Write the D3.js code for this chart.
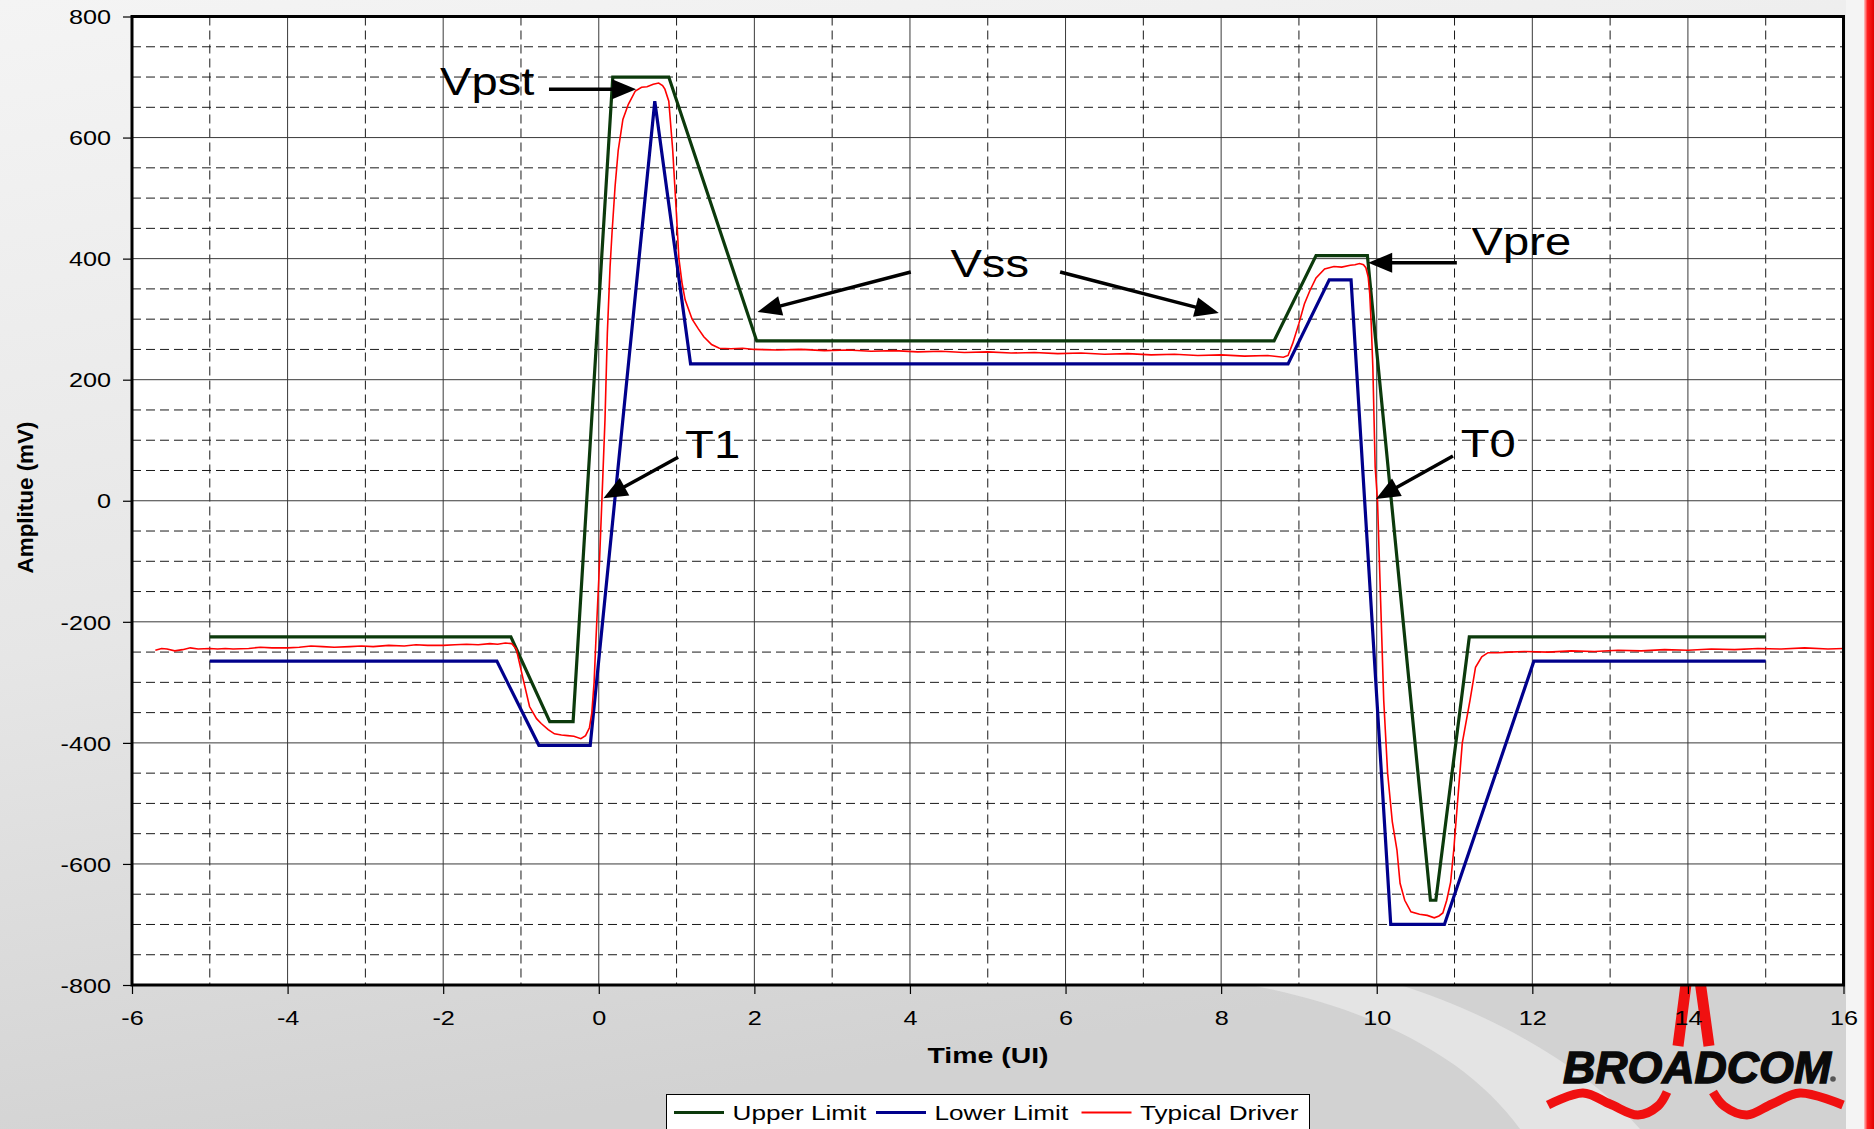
<!DOCTYPE html>
<html>
<head>
<meta charset="utf-8">
<script src="https://cdn.jsdelivr.net/npm/d3@7/dist/d3.min.js"></script>
<style>
  html, body { margin: 0; padding: 0; background: #e6e6e6; }
  svg { display: block; font-family: "Liberation Sans", Arial, sans-serif; }
</style>
</head>
<body>
<svg id="chart" width="1874" height="1129"></svg>
<script>
// ── Data ──────────────────────────────────────────────────────────────────
const xTicks = [-6, -4, -2, 0, 2, 4, 6, 8, 10, 12, 14, 16];
const yTicks = [-800, -600, -400, -200, 0, 200, 400, 600, 800];

const upperX = [-5, -1.13, -0.63, -0.33, 0.18, 0.9, 2.03, 8.68, 9.22, 9.88, 10.69, 10.76, 11.19, 15];
const upperY = [-225, -225, -365, -365, 700, 700, 264, 264, 405, 405, -660, -660, -225, -225];

const lowerX = [-5, -1.31, -0.77, -0.11, 0.72, 1.18, 8.86, 9.39, 9.67, 10.18, 10.87, 12.02, 15];
const lowerY = [-265, -265, -404, -404, 660, 226, 226, 365, 365, -700, -700, -265, -265];

const typicalX = [
  -5.7, -5.62, -5.55, -5.45, -5.35, -5.25, -5.15, -5.0, -4.9, -4.8, -4.7, -4.5, -4.35, -4.2, -4.0,
  -3.85, -3.7, -3.55, -3.4, -3.2, -3.05, -2.9, -2.7, -2.5, -2.35, -2.2, -2.0, -1.85, -1.7, -1.55,
  -1.4, -1.3, -1.2, -1.12, -1.06, -1.03, -0.97, -0.89, -0.8, -0.74, -0.65, -0.57, -0.48, -0.4,
  -0.32, -0.23, -0.17, -0.12, -0.09, -0.06, -0.04, 0.0, 0.04, 0.08, 0.11, 0.145, 0.17, 0.21, 0.25,
  0.31, 0.38, 0.47, 0.55, 0.62, 0.7, 0.77, 0.82, 0.85, 0.9, 0.95, 1.0, 1.03, 1.07, 1.11, 1.2,
  1.28, 1.35, 1.45, 1.55, 1.7, 1.85, 2.0, 2.3, 2.6, 2.9, 3.2, 3.5, 3.8, 4.1, 4.4, 4.7, 5.0, 5.3,
  5.6, 5.9, 6.2, 6.5, 6.8, 7.1, 7.4, 7.7, 8.0, 8.3, 8.6, 8.8, 8.86, 8.92, 9.0, 9.07, 9.14, 9.22,
  9.33, 9.45, 9.55, 9.66, 9.72, 9.78, 9.83, 9.86, 9.89, 9.91, 9.93, 9.95, 9.98, 10.01, 10.05,
  10.09, 10.14, 10.2, 10.26, 10.3, 10.36, 10.44, 10.55, 10.65, 10.74, 10.8, 10.85, 10.9, 10.95,
  10.99, 11.05, 11.1, 11.2, 11.27, 11.35, 11.43, 11.55, 11.7, 11.9, 12.2, 12.5, 12.8, 13.1, 13.4,
  13.7, 14.0, 14.3, 14.6, 14.9, 15.2, 15.5, 15.8, 16.0
];
const typicalY = [
  -247, -244, -245, -248, -246, -243, -245, -244, -245, -244, -245, -244, -242, -243, -243,
  -242, -240, -241, -242, -241, -240, -241, -239, -240, -238, -239, -239, -238, -237, -238,
  -236, -237, -235, -236, -245, -262, -296, -340, -360, -368, -378, -385, -387, -388,
  -389, -393, -388, -375, -351, -300, -240, -130, 0, 134, 276, 386, 442, 520, 579,
  630, 655, 677, 683, 684, 688, 690, 686, 680, 660, 580, 470, 400, 360, 332, 300,
  284, 271, 258, 252, 251, 252, 250, 249, 250, 248, 249, 247, 248, 246, 247, 245, 246, 244,
  245, 243, 244, 242, 243, 241, 242, 240, 241, 239, 240, 237, 240, 260, 293, 325, 347, 368,
  383, 387, 386, 389, 390, 392, 390, 385, 370, 342, 290, 221, 56, 0, -165,
  -330, -450, -530, -577, -632, -660, -679, -683, -685, -689, -686, -681, -660, -630,
  -577, -480, -400, -329, -275, -258, -251, -251, -250, -249, -250, -248, -249, -247, -248,
  -246, -247, -245, -246, -244, -245, -243, -245, -244
];

const seriesNames = ['Upper Limit', 'Lower Limit', 'Typical Driver'];
const seriesColors = ['#0c3a0c', '#00008c', '#ff0000'];

// annotation labels (text anchor point in data units) and arrows (from -> tip)
const annoLabels = ['Vpst', 'Vss', 'Vpre', 'T0', 'T1'];
const annoX = [-2.04, 4.52, 11.22, 11.08, 1.11];
const annoY = [670, 370, 406, 72, 71];
const arrowFromX = [-0.64, 4.01, 5.93, 11.03, 10.98, 1.02];
const arrowFromY = [680, 378, 378, 393, 74, 72];
const arrowToX = [0.48, 2.04, 7.97, 9.89, 9.99, 0.06];
const arrowToY = [680, 312, 310, 393, 3, 4];

// ── Layout ────────────────────────────────────────────────────────────────
const W = 1874, H = 1129;
const plot = { left: 132, right: 1843.5, top: 16.5, bottom: 985 };

const svg = d3.select('#chart');
const x = d3.scaleLinear().domain([-6, 16]).range([plot.left, plot.right]);
const y = d3.scaleLinear().domain([-800, 800]).range([plot.bottom, plot.top]);

// stretch text horizontally (the original picture is widened)
function stretch(sel, k) {
  sel.each(function () {
    const w = this.getComputedTextLength();
    d3.select(this).attr('textLength', w * k).attr('lengthAdjust', 'spacingAndGlyphs');
  });
}

const defs = svg.append('defs');
const bg = defs.append('linearGradient').attr('id', 'bg')
  .attr('x1', 0).attr('y1', 0).attr('x2', 0.25).attr('y2', 1);
bg.append('stop').attr('offset', '0%').attr('stop-color', '#f4f4f4');
bg.append('stop').attr('offset', '55%').attr('stop-color', '#e6e6e6');
bg.append('stop').attr('offset', '100%').attr('stop-color', '#d2d2d2');

const redBar = defs.append('linearGradient').attr('id', 'redbar')
  .attr('x1', 0).attr('y1', 0).attr('x2', 1).attr('y2', 0);
redBar.append('stop').attr('offset', '0%').attr('stop-color', '#ffc8c8');
redBar.append('stop').attr('offset', '35%').attr('stop-color', '#ff2020');
redBar.append('stop').attr('offset', '100%').attr('stop-color', '#e00000');

defs.append('clipPath').attr('id', 'plotclip').append('rect')
  .attr('x', plot.left).attr('y', plot.top)
  .attr('width', plot.right - plot.left).attr('height', plot.bottom - plot.top);

// ── Background ───────────────────────────────────────────────────────────
svg.append('rect').attr('width', W).attr('height', H).attr('fill', 'url(#bg)');
svg.append('path')
  .attr('d', 'M1250,985 C1380,1010 1470,1060 1520,1129 L1640,1129 C1580,1060 1480,1010 1400,985 Z')
  .attr('fill', '#ebebeb').attr('opacity', 0.7);
svg.append('rect').attr('x', 1846).attr('y', 0).attr('width', 20).attr('height', H).attr('fill', '#f4f4f4');
svg.append('rect').attr('x', 1864).attr('y', 0).attr('width', 10).attr('height', H).attr('fill', 'url(#redbar)');

// ── Logo (drawn before the plot so the plot hides the spike top) ─────────
const logo = svg.append('g').attr('fill', 'none').attr('stroke', '#f01010')
  .attr('stroke-linecap', 'butt').attr('stroke-linejoin', 'round');
const logoLine = d3.line().curve(d3.curveCatmullRom);
logo.append('path').attr('stroke-width', 11)
  .attr('d', d3.line()([[1678, 1046], [1693, 930], [1709, 1046]]));
logo.append('path').attr('stroke-width', 9)
  .attr('d', logoLine([[1548, 1105], [1583, 1093], [1610, 1104], [1638, 1115], [1658, 1106], [1667, 1092]]));
logo.append('path').attr('stroke-width', 9)
  .attr('d', logoLine([[1713, 1092], [1724, 1106], [1747, 1115], [1772, 1104], [1800, 1093], [1843, 1105]]));
svg.append('text').attr('x', 1563).attr('y', 1083)
  .attr('font-size', 44).attr('font-weight', 'bold').attr('font-style', 'italic')
  .attr('fill', '#0a0a0a').attr('stroke', '#0a0a0a').attr('stroke-width', 1.4)
  .attr('textLength', 268).attr('lengthAdjust', 'spacingAndGlyphs')
  .text('BROADCOM');
svg.append('circle').attr('cx', 1833).attr('cy', 1079).attr('r', 2.8).attr('fill', '#555');

// ── Plot area and grid ───────────────────────────────────────────────────
svg.append('rect')
  .attr('x', plot.left).attr('y', plot.top)
  .attr('width', plot.right - plot.left).attr('height', plot.bottom - plot.top)
  .attr('fill', '#ffffff');

const grid = svg.append('g');
const xMinor = d3.range(-5, 16, 2);
const yMinor = d3.range(-750, 800, 50).filter(v => v % 200 !== 0);

grid.selectAll('.vminor').data(xMinor).join('line')
  .attr('x1', d => x(d)).attr('x2', d => x(d))
  .attr('y1', plot.top).attr('y2', plot.bottom)
  .attr('stroke', '#1a1a1a').attr('stroke-width', 1).attr('stroke-dasharray', '9,5');
grid.selectAll('.hminor').data(yMinor).join('line')
  .attr('x1', plot.left).attr('x2', plot.right)
  .attr('y1', d => y(d)).attr('y2', d => y(d))
  .attr('stroke', '#1a1a1a').attr('stroke-width', 1).attr('stroke-dasharray', '9,5');
grid.selectAll('.vmajor').data(xTicks.slice(1, -1)).join('line')
  .attr('x1', d => x(d)).attr('x2', d => x(d))
  .attr('y1', plot.top).attr('y2', plot.bottom)
  .attr('stroke', '#3a3a3a').attr('stroke-width', 1);
grid.selectAll('.hmajor').data(yTicks.slice(1, -1)).join('line')
  .attr('x1', plot.left).attr('x2', plot.right)
  .attr('y1', d => y(d)).attr('y2', d => y(d))
  .attr('stroke', '#3a3a3a').attr('stroke-width', 1);

// ── Series ───────────────────────────────────────────────────────────────
const line = d3.line().x(d => x(d[0])).y(d => y(d[1]));
const series = [
  { pts: d3.zip(upperX, upperY), w: 3.2 },
  { pts: d3.zip(lowerX, lowerY), w: 3.2 },
  { pts: d3.zip(typicalX, typicalY), w: 1.6 }
];
const lines = svg.append('g').attr('clip-path', 'url(#plotclip)');
series.forEach((s, i) => {
  lines.append('path')
    .attr('d', line(s.pts))
    .attr('fill', 'none')
    .attr('stroke', seriesColors[i])
    .attr('stroke-width', s.w)
    .attr('stroke-linejoin', 'miter');
});

// frame
svg.append('rect')
  .attr('x', plot.left).attr('y', plot.top)
  .attr('width', plot.right - plot.left).attr('height', plot.bottom - plot.top)
  .attr('fill', 'none').attr('stroke', '#000').attr('stroke-width', 3);

// ── Axes ─────────────────────────────────────────────────────────────────
const fmt = d => String(d);   // plain hyphen minus, as in the original
const xAxis = svg.append('g')
  .attr('transform', `translate(0,${plot.bottom})`)
  .call(d3.axisBottom(x).tickValues(xTicks).tickSize(9).tickPadding(17).tickFormat(fmt));
const yAxis = svg.append('g')
  .attr('transform', `translate(${plot.left},0)`)
  .call(d3.axisLeft(y).tickValues(yTicks).tickSize(9).tickPadding(12).tickFormat(fmt));

[xAxis, yAxis].forEach(ax => {
  ax.select('.domain').remove();
  ax.selectAll('.tick line').attr('stroke', '#000').attr('stroke-width', 1.2);
  ax.selectAll('.tick text')
    .attr('font-family', '"Liberation Sans", Arial, sans-serif')
    .attr('font-size', 20).attr('fill', '#000');
});
yAxis.selectAll('.tick text').attr('dy', '0.36em');
stretch(xAxis.selectAll('.tick text'), 1.26);
stretch(yAxis.selectAll('.tick text'), 1.26);

svg.append('text')
  .attr('x', 988).attr('y', 1063)
  .attr('text-anchor', 'middle').attr('font-size', 22).attr('font-weight', 'bold')
  .attr('textLength', 121).attr('lengthAdjust', 'spacingAndGlyphs')
  .text('Time (UI)');
svg.append('text')
  .attr('transform', 'translate(33,497.5) rotate(-90)')
  .attr('text-anchor', 'middle').attr('font-size', 22).attr('font-weight', 'bold')
  .attr('textLength', 152).attr('lengthAdjust', 'spacingAndGlyphs')
  .text('Amplitue (mV)');

// ── Annotations ──────────────────────────────────────────────────────────
const anno = svg.append('g');
annoLabels.forEach((t, i) => {
  anno.append('text')
    .attr('x', x(annoX[i])).attr('y', y(annoY[i]))
    .attr('font-size', 38).attr('fill', '#000')
    .text(t);
});
stretch(anno.selectAll('text'), 1.24);

const headLen = 24, headHalf = 10;
arrowFromX.forEach((fx, i) => {
  const x0 = x(fx), y0 = y(arrowFromY[i]);
  const x1 = x(arrowToX[i]), y1 = y(arrowToY[i]);
  const len = Math.hypot(x1 - x0, y1 - y0);
  const ux = (x1 - x0) / len, uy = (y1 - y0) / len;
  const bx = x1 - ux * headLen, by = y1 - uy * headLen;
  anno.append('line')
    .attr('x1', x0).attr('y1', y0).attr('x2', bx + ux * 2).attr('y2', by + uy * 2)
    .attr('stroke', '#000').attr('stroke-width', 3.5);
  anno.append('path')
    .attr('d', `M${x1},${y1}L${bx - uy * headHalf},${by + ux * headHalf}L${bx + uy * headHalf},${by - ux * headHalf}Z`)
    .attr('fill', '#000');
});

// ── Legend ───────────────────────────────────────────────────────────────
const legend = svg.append('g');
legend.append('rect')
  .attr('x', 666.5).attr('y', 1094.5).attr('width', 643).attr('height', 60)
  .attr('fill', '#fff').attr('stroke', '#000').attr('stroke-width', 1);
const legSwatchX = [674, 876, 1081.5];
seriesNames.forEach((name, i) => {
  const sx = legSwatchX[i];
  legend.append('line')
    .attr('x1', sx).attr('x2', sx + 50).attr('y1', 1112.5).attr('y2', 1112.5)
    .attr('stroke', seriesColors[i]).attr('stroke-width', i === 2 ? 2 : 3);
  legend.append('text')
    .attr('x', sx + 58.5).attr('y', 1120)
    .attr('font-size', 21).attr('fill', '#000')
    .attr('class', 'legtext')
    .text(name);
});
stretch(legend.selectAll('.legtext'), 1.245);
</script>
</body>
</html>
